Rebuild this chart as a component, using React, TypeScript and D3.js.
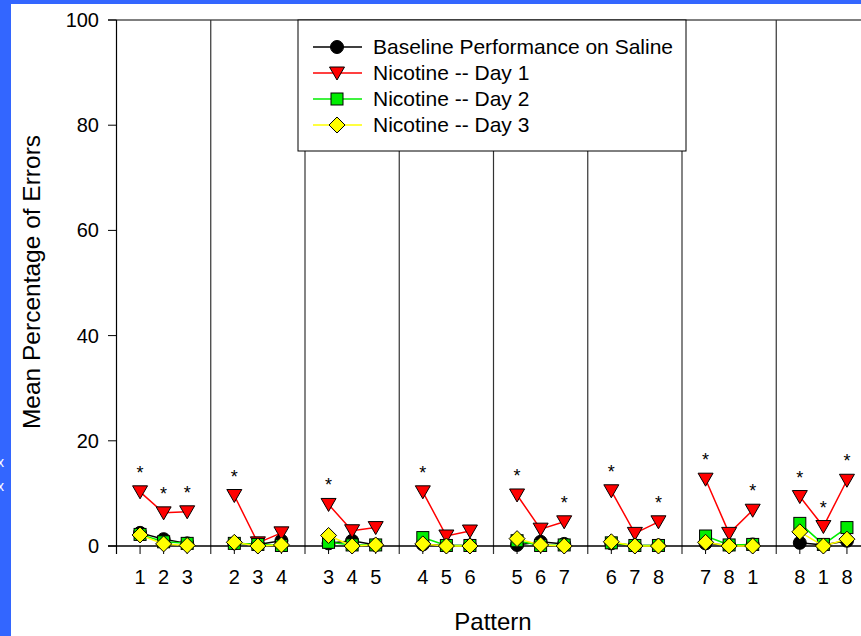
import React from "react";
import * as d3 from "d3";

const patternLabels = ["1","2","3","2","3","4","3","4","5","4","5","6","5","6","7","6","7","8","7","8","1","8","1","8"];
const baseline = [2.5,1.3,0.5, 0.5,0.3,1.0, 0.5,1.0,0.2, 0.3,0.1,0.1, 0.2,0.8,0.4, 0.5,0.1,0.1, 0.5,0.1,0.3, 0.6,0.2,1.0];
const day1 = [10.3,6.3,6.5, 9.6,0.6,2.5, 7.9,2.9,3.5, 10.3,1.9,2.85, 9.7,3.2,4.6, 10.5,2.4,4.6, 12.7,2.4,6.8, 9.4,3.7,12.5];
const day2 = [2.2,0.8,0.5, 0.5,0.3,0.1, 0.7,0.2,0.2, 1.6,0.1,0.1, 1.0,0.1,0.2, 0.6,0.1,0.1, 1.9,0.2,0.3, 4.3,0.3,3.5];
const day3 = [2.1,0.4,0.1, 0.7,0.0,0.2, 2.0,0.0,0.2, 0.4,0.0,0.0, 1.4,0.2,0.0, 0.8,0.0,0.0, 0.7,0.0,0.0, 2.7,0.0,1.3];
const significant = [1,1,1, 1,0,0, 1,0,0, 1,0,0, 1,0,1, 1,0,1, 1,0,1, 1,1,1];
const yTicks = [0, 20, 40, 60, 80, 100];
const seriesNames = ["Baseline Performance on Saline", "Nicotine -- Day 1", "Nicotine -- Day 2", "Nicotine -- Day 3"];

const W = 861, H = 636;
const FONT = "'Liberation Sans', Arial, sans-serif";
const nGroups = 8;

const x = d3.scaleLinear().domain([0, nGroups * 4]).range([116.5, 870.5]);
const y = d3.scaleLinear().domain([0, 100]).range([546, 20]);

const posOf = (k: number) => Math.floor(k / 3) * 4 + (k % 3) + 1;

type Series = { name: string; values: number[]; color: string; fill: string; shape: string };
const series: Series[] = [
  { name: seriesNames[0], values: baseline, color: "#000000", fill: "#000000", shape: "circle" },
  { name: seriesNames[1], values: day1, color: "#ff0000", fill: "#ff0000", shape: "tri" },
  { name: seriesNames[2], values: day2, color: "#00ee00", fill: "#00ee00", shape: "square" },
  { name: seriesNames[3], values: day3, color: "#ffff00", fill: "#ffff00", shape: "diamond" },
];

function Marker({ shape, cx, cy, fill }: { shape: string; cx: number; cy: number; fill: string }) {
  const st = { fill, stroke: "#000", strokeWidth: 1 };
  if (shape === "circle") return <circle cx={cx} cy={cy} r={6.5} {...st} />;
  if (shape === "square") return <rect x={cx - 6} y={cy - 6} width={12} height={12} {...st} />;
  if (shape === "tri") {
    const p = `${cx - 7.5},${cy - 6} ${cx + 7.5},${cy - 6} ${cx},${cy + 7}`;
    return <polygon points={p} {...st} />;
  }
  const p = `${cx},${cy - 8} ${cx + 8},${cy} ${cx},${cy + 8} ${cx - 8},${cy}`;
  return <polygon points={p} {...st} />;
}

export default function App() {
  const groups = d3.range(nGroups);
  return (
    <svg width={W} height={H} style={{ position: "absolute", left: 0, top: 0, background: "#fff" }} fontFamily={FONT}>
      <rect x={0} y={0} width={W} height={4} fill="#3366ff" />
      <rect x={0} y={0} width={11} height={H} fill="#3366ff" />
      <text x={-3} y={467} fill="#fff" fontSize={14}>x</text>
      <text x={-3} y={491} fill="#fff" fontSize={14}>x</text>

      {/* frame */}
      <line x1={108} x2={W} y1={y(100)} y2={y(100)} stroke="#000" strokeWidth={1} />
      <line x1={x(0)} x2={x(0)} y1={y(100)} y2={y(0) + 8} stroke="#000" strokeWidth={1.2} />
      {groups.slice(1).concat([nGroups]).map((g) => (
        <line key={"d" + g} x1={x(g * 4)} x2={x(g * 4)} y1={y(100)} y2={y(0) + 8} stroke="#333" strokeWidth={1.2} />
      ))}
      <line x1={108} x2={W} y1={y(0)} y2={y(0)} stroke="#000" strokeWidth={1.5} />

      {/* y ticks */}
      {yTicks.map((t) => (
        <g key={"y" + t}>
          <line x1={108} x2={x(0)} y1={y(t)} y2={y(t)} stroke="#000" strokeWidth={1} />
          <text x={99} y={y(t)} dy="0.35em" textAnchor="end" fontSize={20}>{t}</text>
        </g>
      ))}
      {/* x ticks */}
      {patternLabels.map((lab, k) => (
        <g key={"x" + k}>
          <line x1={x(posOf(k))} x2={x(posOf(k))} y1={y(0)} y2={y(0) + 8} stroke="#000" strokeWidth={1} />
          <text x={x(posOf(k))} y={584} textAnchor="middle" fontSize={20}>{lab}</text>
        </g>
      ))}

      <text x={493} y={630} textAnchor="middle" fontSize={24}>Pattern</text>
      <text transform={`translate(40,${(y(0) + y(100)) / 2 - 1}) rotate(-90)`} textAnchor="middle" fontSize={24.5}>Mean Percentage of Errors</text>

      {/* series */}
      {series.map((s) => (
        <g key={s.name}>
          {groups.map((g) => {
            const idx = [g * 3, g * 3 + 1, g * 3 + 2];
            const path = d3.line<number>().x((k) => x(posOf(k))).y((k) => y(s.values[k]))(idx) || "";
            return <path key={g} d={path} fill="none" stroke={s.color} strokeWidth={1.5} />;
          })}
          {s.values.map((v, k) => (
            <Marker key={k} shape={s.shape} cx={x(posOf(k))} cy={y(v)} fill={s.fill} />
          ))}
        </g>
      ))}

      {/* asterisks */}
      {significant.map((f, k) =>
        f ? (
          <text key={"s" + k} x={x(posOf(k))} y={y(day1[k]) - 13} textAnchor="middle" fontSize={18}>*</text>
        ) : null
      )}

      {/* legend */}
      <rect x={298} y={20} width={388} height={131} fill="#fff" stroke="#000" strokeWidth={1} />
      {series.map((s, i) => {
        const cy = 47 + i * 26;
        return (
          <g key={"l" + i}>
            <line x1={313} x2={362} y1={cy} y2={cy} stroke={s.color} strokeWidth={1.5} />
            <Marker shape={s.shape} cx={337} cy={cy} fill={s.fill} />
            <text x={373} y={cy} dy="0.35em" fontSize={21}>{s.name}</text>
          </g>
        );
      })}
    </svg>
  );
}
